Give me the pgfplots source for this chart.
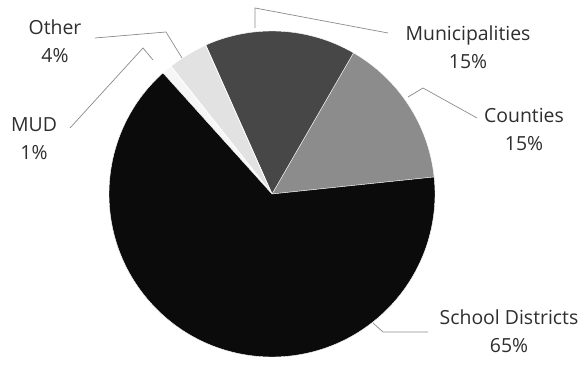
\documentclass[border=0pt]{standalone}
\usepackage{pgfplots}
\pgfplotsset{compat=1.18}
\usepackage{fontspec}
\setmainfont{Open Sans}
\definecolor{cSchool}{HTML}{0B0B0B}
\definecolor{cMun}{HTML}{474747}
\definecolor{cCount}{HTML}{8C8C8C}
\definecolor{cOther}{HTML}{E2E2E2}
\definecolor{cMUD}{HTML}{F6F6F6}
\definecolor{cLead}{HTML}{8A8A8A}
\definecolor{cText}{HTML}{2E2E2E}
\begin{document}
\begin{tikzpicture}
\begin{axis}[width=585bp, height=358bp, scale only axis,
  xmin=0, xmax=585, ymin=0, ymax=358, hide axis, clip=false]
\addplot[draw=none] coordinates {(0,0) (585,358)};
% pie: centre (272,164), radius 163, start angle 6 deg; values in percent
% Counties 15, Municipalities 15, Other 4, MUD 1, School Districts 65
\fill[cCount, draw=white, line width=0.4pt] (axis cs:272,164) -- ++(6:163bp) arc[start angle=6, end angle={6+3.6*15}, radius=163bp] -- cycle;
\fill[cMun, draw=white, line width=0.4pt] (axis cs:272,164) -- ++({6+3.6*15}:163bp) arc[start angle={6+3.6*15}, end angle={6+3.6*30}, radius=163bp] -- cycle;
\fill[cOther, draw=white, line width=0.8pt] (axis cs:272,164) -- ++({6+3.6*30}:163bp) arc[start angle={6+3.6*30}, end angle={6+3.6*34}, radius=163bp] -- cycle;
\fill[cMUD, draw=white, line width=0.8pt] (axis cs:272,164) -- ++({6+3.6*34}:163bp) arc[start angle={6+3.6*34}, end angle={6+3.6*35}, radius=163bp] -- cycle;
\fill[cSchool, draw=white, line width=0.4pt] (axis cs:272,164) -- ++({6+3.6*35}:163bp) arc[start angle={6+3.6*35}, end angle={6+3.6*100}, radius=163bp] -- cycle;
% leader lines
\addplot[cLead, line width=0.7pt] coordinates {(182,300) (166,326) (95,320)};
\addplot[cLead, line width=0.7pt] coordinates {(153,298) (143,310) (70,230)};
\addplot[cLead, line width=0.7pt] coordinates {(255,330) (255,350) (388,325)};
\addplot[cLead, line width=0.7pt] coordinates {(408,261) (423,270) (477,240)};
\addplot[cLead, line width=0.7pt] coordinates {(373,35) (383,26) (428,26)};
% labels
\begin{scope}[every node/.style={align=center, text=cText, font=\fontsize{19.5}{28}\selectfont, inner sep=0pt}]
\node at (axis cs:55,317) {Other\\4\%};
\node at (axis cs:34,219) {MUD\\1\%};
\node at (axis cs:468,311) {Municipalities\\15\%};
\node at (axis cs:524,228.5) {Counties\\15\%};
\node at (axis cs:509,27) {School Districts\\65\%};
\end{scope}
\end{axis}
\end{tikzpicture}
\end{document}
